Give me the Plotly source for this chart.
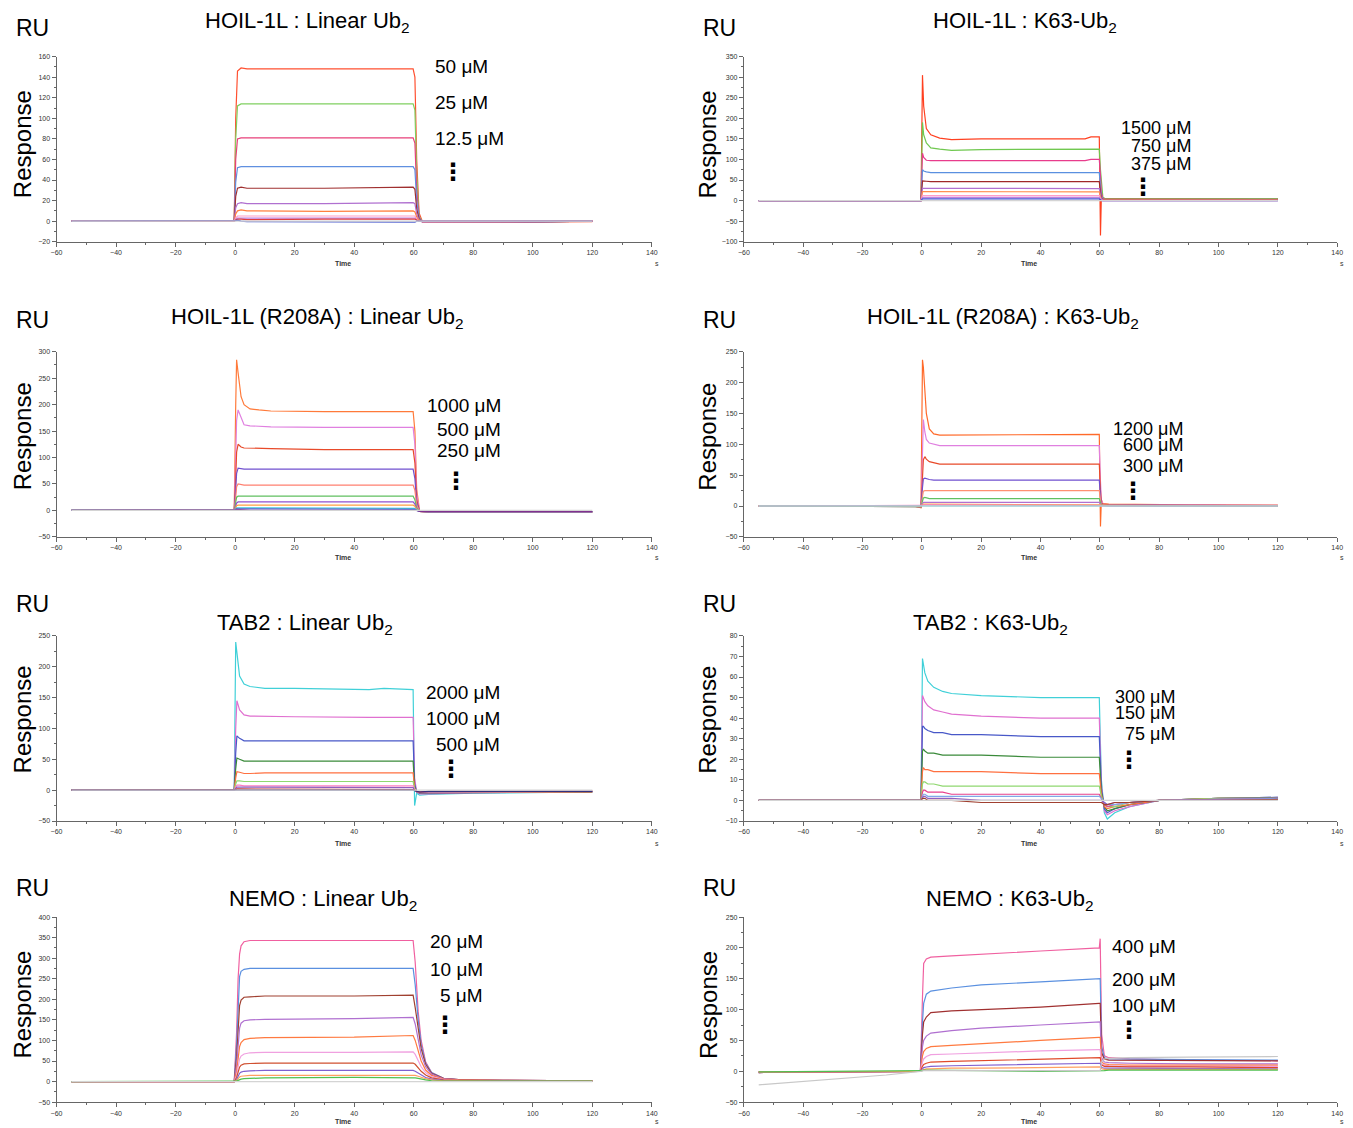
import plotly.graph_objects as go

W, H = 1353, 1128
FONT = "Liberation Sans, Arial, sans-serif"

# ---------------- data ----------------
TITLES = ["HOIL-1L : Linear Ub<sub>2</sub>", "HOIL-1L : K63-Ub<sub>2</sub>",
          "HOIL-1L (R208A) : Linear Ub<sub>2</sub>", "HOIL-1L (R208A) : K63-Ub<sub>2</sub>",
          "TAB2 : Linear Ub<sub>2</sub>", "TAB2 : K63-Ub<sub>2</sub>",
          "NEMO : Linear Ub<sub>2</sub>", "NEMO : K63-Ub<sub>2</sub>"]
CONC_LABELS = [["50 μM", "25 μM", "12.5 μM"], ["1500 μM", "750 μM", "375 μM"],
               ["1000 μM", "500 μM", "250 μM"], ["1200 μM", "600 μM", "300 μM"],
               ["2000 μM", "1000 μM", "500 μM"], ["300 μM", "150 μM", "75 μM"],
               ["20 μM", "10 μM", "5 μM"], ["400 μM", "200 μM", "100 μM"]]
Y_RANGES = [(-20, 160), (-100, 350), (-50, 300), (-50, 250),
            (-50, 250), (-10, 80), (-50, 400), (-50, 250)]
Y_DTICK = [20, 50, 50, 50, 50, 10, 50, 50]
X_TICKS = [-60, -40, -20, 0, 20, 40, 60, 80, 100, 120, 140]

# Panel 1: HOIL-1L : Linear Ub2
P1_T = [-55, -0.3, 0.2, 0.8, 2, 4, 30, 59.8, 60.4, 61, 61.8, 63, 90, 120]
P1_CURVES = [
    [0, 0, 100, 146, 149, 148, 148, 148, 140, 60, 8, -1, -1, -0.5],
    [0, 0, 80, 112, 114, 114, 113.5, 114, 108, 45, 5, -1, -1, 0],
    [0, 0, 60, 80, 81, 81, 81, 81, 76, 30, 4, -1, -1, 0],
    [0, 0, 38, 52, 53, 53, 53, 53, 50, 20, 3, -1, -1, 0],
    [0, 0, 24, 32, 33, 32, 32, 33, 31, 12, 2, -1, -1, 0],
    [0, 0, 13, 17, 18, 17, 17, 18, 17, 7, 1, -1, -1, 0],
    [0, 0, 7, 10, 11, 10, 9.5, 10, 9, 4, 1, -0.5, -0.5, 0],
    [0, 0, 3, 5, 5, 5, 5, 5, 5, 2, 0, -0.5, 0, 0],
    [0, 0, 2, 3, 3, 3, 3, 3, 3, 1, 0, 0, 0, 0],
    [0, 0, 1, 2, 2, 1.5, 2, 2, 2, 1, 0, 0, 0, 0],
    [0, 0, 0.5, 1, 0, -0.5, -1, -1, -1, 0, 0, 0, 0, 0],
]
P1_COLORS = ["#ff5030", "#80d060", "#e8407a", "#6090e0", "#a03030", "#b070d0",
             "#ff7f3f", "#ff9ec8", "#c080e0", "#e04040", "#5060d0"]

# Panel 2: HOIL-1L : K63-Ub2
P2_T = [-55, -0.3, 0.2, 0.6, 1.5, 3, 6, 10, 20, 55, 57, 59.8, 60.2, 60.5, 61, 62, 64, 120]
P2_CURVES = [
    [0, 0, 305, 230, 175, 160, 152, 148, 150, 150, 155, 155, -85, 10, 5, 5, 5, 5],
    [0, 0, 190, 160, 140, 128, 125, 122, 124, 125, 125, 125, 75, 40, 8, 4, 4, 5],
    [0, 0, 115, 105, 98, 97, 97, 97, 97, 97, 100, 100, 60, 20, 5, 3, 3, 3],
    [0, 0, 75, 72, 70, 68, 68, 68, 68, 68, 68, 68, 30, 10, 3, 2, 2, 2],
    [0, 0, 48, 48, 47, 46, 46, 46, 46, 46, 46, 46, 20, 5, 2, 2, 2, 2],
    [0, 0, 30, 30, 29, 29, 29, 29, 29, 29, 29, 29, 12, 3, 1, 1, 1, 1],
    [0, 0, 22, 22, 21, 21, 21, 21, 21, 21, 21, 21, 8, 2, 1, 1, 1, 1],
    [0, 0, 12, 12, 12, 12, 12, 12, 12, 12, 12, 12, 5, 1, 0, 0, 0, 0],
    [0, 0, 8, 8, 8, 8, 8, 8, 8, 8, 8, 8, 3, 1, 0, 0, 0, 0],
    [0, 0, 4, 4, 4, 4, 4, 4, 4, 4, 4, 4, 2, 0, 0, 0, 0, 0],
]
P2_COLORS = ["#ff4020", "#70c850", "#e83c8c", "#5a90e0", "#a02828", "#b070d0",
             "#ff8a4a", "#ff9ec8", "#c080e0", "#4050d0"]

# Panel 3: HOIL-1L (R208A) : Linear Ub2
P3_T = [-55, -0.3, 0.2, 0.5, 1, 2, 3, 5, 8, 12, 30, 59.8, 60.4, 61, 62, 65, 120]
P3_CURVES = [
    [0, 0, 200, 285, 260, 215, 200, 192, 190, 188, 187, 187, 150, 40, -2, -3, -3],
    [0, 0, 100, 170, 190, 175, 162, 160, 159, 158, 157, 157, 125, 30, -2, -3, -3],
    [0, 0, 60, 110, 125, 120, 118, 118, 117, 117, 115, 115, 90, 20, -2, -3, -3],
    [0, 0, 40, 70, 80, 79, 78, 78, 78, 78, 78, 78, 60, 15, -2, -3, -3],
    [0, 0, 25, 45, 50, 49, 48, 48, 48, 48, 48, 48, 38, 10, -2, -3, -3],
    [0, 0, 15, 25, 27, 27, 27, 27, 27, 27, 27, 27, 20, 5, -2, -3, -3],
    [0, 0, 8, 14, 16, 16, 16, 16, 16, 16, 16, 16, 12, 3, -2, -3, -3],
    [0, 0, 5, 9, 10, 10, 10, 10, 10, 10, 10, 10, 8, 2, -2, -2, -2],
    [0, 0, 3, 5, 5, 5, 5, 5, 5, 5, 5, 5, 4, 1, -2, -2, -2],
    [0, 0, 2, 3, 3, 3, 3, 3, 3, 2, 2, 2, 2, 0, -2, -2, -2],
    [0, 0, 1, 2, 2, 2, 1, 0, 0, 0, 0, 0, 0, 0, -2, -2, -2],
]
P3_COLORS = ["#ff7a3a", "#e080e0", "#e84a2a", "#7050d0", "#ff8070", "#60c060",
             "#9050d0", "#ffa040", "#40c8d8", "#5060d0", "#803090"]

# Panel 4: HOIL-1L (R208A) : K63-Ub2
P4_T = [-55, -3, -0.3, 0.2, 0.5, 1, 1.5, 2.5, 4, 6, 30, 59.8, 60.2, 60.5, 61, 63, 90, 120]
P4_CURVES = [
    [0, 0, -3, 237, 225, 180, 150, 125, 117, 115, 115, 116, -33, 10, 4, 3, 2, 1],
    [0, 0, -2, 100, 140, 120, 108, 102, 100, 98, 98, 98, 40, 10, 3, 2, 2, 1],
    [0, 0, -2, 50, 75, 80, 76, 72, 70, 68, 68, 68, 25, 5, 3, 2, 1, 1],
    [0, 0, -1, 30, 44, 45, 44, 43, 42, 42, 42, 42, 15, 3, 2, 2, 1, 0],
    [0, 0, -1, 15, 24, 25, 25, 25, 25, 25, 25, 25, 10, 2, 2, 1, 1, 0],
    [0, 0, -1, 8, 13, 14, 13, 12, 12, 12, 12, 12, 5, 2, 1, 1, 0, 0],
    [0, 0, 0, 4, 6, 6, 6, 6, 6, 6, 6, 6, 3, 1, 1, 0, 0, 0],
    [0, 0, 0, 2, 3, 3, 3, 3, 3, 3, 3, 3, 2, 1, 1, 0, 0, 0],
    [0, 0, 0, 1, 2, 2, 2, 2, 2, 2, 2, 1.5, 1, 0, 0, 0, 0, 0],
    [0, 0, 0, 0, 1, 1, 1, 0, 0, 0, 0, 0, 0, 0, 0, 0, 0, 0],
]
P4_COLORS = ["#ff6a2a", "#e080e0", "#e84a2a", "#7050d0", "#ff9070", "#60c060",
             "#b070d0", "#ffa040", "#ff80c0", "#40c8d8"]

# Panel 5: TAB2 : Linear Ub2
P5_T = [-55, -3, -0.3, 0.2, 0.6, 1.5, 3, 5, 10, 20, 45, 50, 59.8, 60.3, 61, 62, 65, 80, 120]
P5_CURVES = [
    [0, -1, 0, 240, 225, 185, 172, 168, 165, 165, 163, 165, 163, -25, -5, -8, -7, -5, -3],
    [0, 0, 0, 100, 145, 130, 122, 120, 120, 119, 118, 118, 118, 20, -3, -6, -6, -4, -3],
    [0, 0, 0, 60, 88, 84, 80, 80, 80, 80, 80, 80, 80, 10, -3, -5, -5, -4, -3],
    [0, 0, 0, 35, 52, 50, 47, 47, 47, 47, 47, 47, 47, 5, -2, -4, -4, -3, -3],
    [0, 0, 0, 20, 30, 29, 27, 27, 28, 28, 28, 28, 28, 3, -2, -4, -4, -3, -3],
    [0, 0, 0, 10, 15, 15, 14, 14, 14, 14, 14, 14, 14, 2, -2, -3, -3, -3, -2],
    [0, 0, 0, 5, 8, 8, 7, 7, 7, 7, 7, 7, 7, 1, -2, -3, -3, -2, -2],
    [0, 0, 0, 3, 5, 5, 5, 4, 4, 4, 4, 4, 4, 0, -2, -3, -3, -2, -2],
    [0, 0, 0, 1, 2, 2, 2, 1, 1, 1, 1, 1, 1, 0, -2, -3, -2, -2, -2],
    [0, 0, 0, 0, 1, 1, 0, 0, 0, 0, 0, 0, 0, -1, -2, -3, -2, -2, -2],
]
P5_COLORS = ["#40d0d8", "#e070d0", "#4858c8", "#3a8a3a", "#ff7040", "#90d870",
             "#ff80c0", "#9060c0", "#c03030", "#303080"]

# Panel 6: TAB2 : K63-Ub2
P6_T = [-55, -0.3, 0.2, 0.5, 1, 2, 4, 7, 10, 20, 40, 59.8, 60.5, 61.5, 62.5, 65, 70, 80, 100, 120]
P6_CURVES = [
    [0, 0, 69, 66, 62, 58, 55, 53, 52, 51, 50, 50, 10, -6, -9, -6, -3, 0, 1, 1.5],
    [0, 0, 51, 50, 48, 46, 44, 43, 42, 41, 40, 40, 8, -5, -7, -5, -3, 0, 1, 1.5],
    [0, 0, 36, 36, 35, 34, 33, 33, 32, 32, 31, 31, 6, -4, -6, -4, -2, 0, 1, 1.5],
    [0, 0, 24, 25, 24, 23, 23, 22, 22, 22, 21, 21, 4, -3, -5, -4, -2, 0, 1, 1],
    [0, 0, 14, 16, 15, 15, 14, 14, 14, 14, 13, 13, 3, -3, -4, -3, -2, 0, 1, 1],
    [0, 0, 8, 9, 9, 8, 8, 7, 7, 7, 7, 7, 2, -2, -3, -3, -1, 0, 1, 1],
    [0, 0, 4, 5, 5, 4, 4, 4, 3, 3, 3, 3, 1, -2, -3, -2, -1, 0, 0.5, 1],
    [0, 0, 2, 3, 3, 2, 2, 2, 2, 2, 2, 2, 1, -1, -2, -2, -1, 0, 0.5, 1],
    [0, 0, 1, 2, 2, 1, 1, 1, 1, 0, 0, 0, 0, -1, -2, -1, -1, 0, 0.5, 0.5],
    [0, 0, 1, 1, 1, 0, 0, 0, 0, -1, -1, -1, -1, -2, -2, -1, -1, 0, 0, 0.5],
]
P6_COLORS = ["#40d0d8", "#e070d0", "#4858c8", "#3a8a3a", "#ff7040", "#90d870",
             "#e8408c", "#80a8e8", "#9060c0", "#a04030"]

# Panel 7: NEMO : Linear Ub2
P7_T = [-55, -0.3, 0.5, 1, 1.5, 2, 3, 5, 10, 40, 59.8, 60.5, 61.5, 62.5, 64, 66, 70, 75, 90, 120]
P7_CURVES = [
    [0, 0, 120, 250, 310, 330, 340, 343, 343, 343, 343, 290, 170, 100, 48, 22, 8, 5, 3, 2],
    [0, 0, 90, 200, 255, 268, 273, 275, 275, 276, 275, 235, 150, 90, 45, 22, 8, 5, 3, 2],
    [0, 0, 60, 140, 185, 198, 205, 206, 208, 208, 210, 180, 125, 80, 42, 20, 8, 5, 3, 2],
    [0, 0, 40, 95, 130, 142, 148, 150, 151, 153, 156, 140, 100, 65, 36, 18, 7, 4, 3, 2],
    [0, 0, 25, 60, 85, 95, 102, 105, 107, 108, 112, 100, 75, 50, 28, 15, 6, 4, 3, 2],
    [0, 0, 15, 40, 55, 62, 67, 70, 71, 71, 72, 66, 52, 36, 22, 12, 5, 3, 2, 2],
    [0, 0, 10, 25, 35, 40, 43, 44, 45, 45, 45, 42, 34, 25, 16, 9, 4, 3, 2, 2],
    [0, 0, 5, 14, 20, 23, 25, 26, 27, 27, 27, 25, 21, 16, 10, 6, 3, 2, 2, 1],
    [0, 0, 3, 8, 11, 13, 14, 15, 15, 15, 16, 15, 13, 10, 7, 4, 2, 2, 1, 1],
    [0, 0, 1, 3, 5, 6, 7, 8, 9, 10, 10, 9, 8, 6, 4, 2, 1, 1, 1, 1],
]
P7_COLORS = ["#f060a0", "#5a90e0", "#a04030", "#b070d0", "#ff7a40", "#f0a0e0",
             "#d05030", "#8060d0", "#ffa060", "#50c050"]

# Panel 8: NEMO : K63-Ub2
P8_T = [-55, -12, -0.5, 0.2, 0.6, 1.5, 3, 10, 20, 40, 59.8, 60.1, 60.6, 61.5, 63, 70, 90, 120]
P8_CURVES = [
    [-2, -1, 0, 120, 175, 182, 185, 187, 190, 195, 200, 215, 60, 25, 22, 20, 18, 17],
    [-2, -1, 0, 80, 110, 125, 130, 135, 140, 145, 150, 150, 40, 22, 20, 20, 19, 18],
    [-2, -1, 0, 60, 80, 88, 95, 98, 100, 104, 110, 110, 30, 20, 18, 18, 17, 17],
    [-1, -1, 0, 40, 50, 57, 62, 66, 70, 75, 80, 80, 22, 15, 14, 13, 12, 12],
    [-1, 0, 0, 25, 32, 37, 40, 42, 45, 50, 55, 55, 15, 12, 11, 10, 10, 10],
    [-1, 0, 0, 15, 20, 24, 27, 28, 30, 33, 35, 35, 12, 10, 9, 8, 8, 8],
    [-1, 0, 0, 8, 11, 13, 15, 16, 17, 19, 22, 22, 10, 8, 8, 7, 7, 6],
    [-1, 0, 0, 4, 6, 7, 8, 9, 10, 11, 13, 13, 6, 5, 5, 5, 4, 4],
    [-1, 0, 0, 2, 3, 4, 4, 5, 5, 6, 7, 7, 4, 3, 3, 3, 3, 3],
    [-1, 0, 0, 1, 2, 2, 2, 2, 1, 0, 0, 0, 0, 1, 2, 2, 2, 2],
    [-22, -6, 0, 1, 1, 1, 1, 1, 1, 1, 1, 1, 15, 20, 21, 22, 23, 24],
]
P8_COLORS = ["#f060a0", "#5a90e0", "#a03030", "#b070d0", "#ff7a40", "#f0a0e0",
             "#e04a2a", "#8060d0", "#ffa060", "#50c050", "#c8c8c8"]

PANELS = [(P1_T, P1_CURVES, P1_COLORS), (P2_T, P2_CURVES, P2_COLORS),
          (P3_T, P3_CURVES, P3_COLORS), (P4_T, P4_CURVES, P4_COLORS),
          (P5_T, P5_CURVES, P5_COLORS), (P6_T, P6_CURVES, P6_COLORS),
          (P7_T, P7_CURVES, P7_COLORS), (P8_T, P8_CURVES, P8_COLORS)]
BASE_T = [-55, 120]
BASE_Y = [0, 0]

# ---------------- layout geometry (target pixels) ----------------
COL_X = [(57, 652), (744, 1337)]
ROW_Y = [(57, 242), (352, 537), (636, 821), (917, 1102)]
TITLE_POS = [(308, 22), (1025, 22), (318, 318), (1003, 318),
             (305, 624), (990, 624), (323, 900), (1010, 900)]
LABEL_POS = [(433, [67, 103, 139], "left"), (1193, [128, 146, 164], "right"),
             (503, [406, 430, 451], "right"), (1185, [429, 445, 466], "right"),
             (502, [693, 719, 745], "right"), (1177, [697, 713, 734], "right"),
             (485, [941, 969, 995], "right"), (1178, [946, 979, 1005], "right")]
LABEL_SIZE = [19, 18, 19, 18, 19, 18, 19, 19]
DOTS_POS = [(453, 172), (1143, 187), (456, 481), (1133, 491),
            (451, 769), (1129, 760), (445, 1025), (1129, 1030)]
RU_Y = [28, 320, 604, 888]
RESP_Y = [145, 437, 720, 1005]
TIME_Y = [264, 558, 843, 1121]

# compensation for the page offset/scale seen when the page is photographed
SX, OX = 0.9906, 14.5
SY, OY = 0.9933, 12.4


def px(x):
    return ((x - OX) / SX) / W


def py(y):
    return 1 - ((y - OY) / SY) / H


fig = go.Figure()
layout = dict(width=W, height=H, margin=dict(l=0, r=0, t=0, b=0),
              paper_bgcolor="white", plot_bgcolor="white", showlegend=False,
              font=dict(family=FONT, color="black"))
annotations = []

for i, (T, curves, colors) in enumerate(PANELS):
    r, c = divmod(i, 2)
    k = "" if i == 0 else str(i + 1)
    xa, ya = "x" + k, "y" + k
    for yv, col in zip(curves, colors):
        fig.add_trace(go.Scatter(x=T, y=yv, mode="lines", xaxis=xa, yaxis=ya,
                                 line=dict(color=col, width=1.2), hoverinfo="skip"))
    if i != 7:
        fig.add_trace(go.Scatter(x=BASE_T, y=BASE_Y, mode="lines", xaxis=xa, yaxis=ya,
                                 line=dict(color="#d4d4d4", width=1.2), hoverinfo="skip"))
    x0, x1 = COL_X[c]
    y0, y1 = ROW_Y[r]
    ymin, ymax = Y_RANGES[i]
    dt = Y_DTICK[i]
    axis_common = dict(showline=True, linecolor="#666", linewidth=1, ticks="outside",
                       ticklen=4, tickcolor="#666", tickwidth=1, showgrid=False,
                       zeroline=False, tickfont=dict(size=7, color="#333", family=FONT))
    layout["xaxis" + k] = dict(axis_common, domain=[px(x0), px(x1)], anchor=ya,
                               range=[-60, 140], tickvals=X_TICKS,
                               minor=dict(ticks="outside", ticklen=2, tickcolor="#666",
                                          dtick=10, tick0=-60, showgrid=False))
    layout["yaxis" + k] = dict(axis_common, domain=[py(y1), py(y0)], anchor=xa,
                               range=[ymin, ymax], dtick=dt, tick0=ymin,
                               minor=dict(ticks="outside", ticklen=2, tickcolor="#666",
                                          dtick=dt / 2, tick0=ymin, showgrid=False))
    tx, ty = TITLE_POS[i]
    annotations.append(dict(text=TITLES[i], x=px(tx), y=py(ty), xref="paper", yref="paper",
                            xanchor="center", yanchor="middle", showarrow=False,
                            font=dict(size=22, family=FONT, color="black")))
    lx, lys, anc = LABEL_POS[i]
    for txt, ly in zip(CONC_LABELS[i], lys):
        annotations.append(dict(text=txt, x=px(lx), y=py(ly), xref="paper", yref="paper",
                                xanchor=anc, yanchor="middle", showarrow=False,
                                font=dict(size=LABEL_SIZE[i], family=FONT, color="black")))
    dx, dy = DOTS_POS[i]
    annotations.append(dict(text="⋮", x=px(dx), y=py(dy), xref="paper", yref="paper",
                            xanchor="center", yanchor="middle", showarrow=False,
                            font=dict(size=24, family="DejaVu Sans", color="black",
                                      weight="bold")))
    annotations.append(dict(text="Time", x=px(343 if c == 0 else 1029), y=py(TIME_Y[r]),
                            xref="paper", yref="paper", xanchor="center", yanchor="middle",
                            showarrow=False,
                            font=dict(size=7, family=FONT, color="#333", weight="bold")))
    annotations.append(dict(text="s", x=px(657 if c == 0 else 1342), y=py(TIME_Y[r]),
                            xref="paper", yref="paper", xanchor="center", yanchor="middle",
                            showarrow=False, font=dict(size=7, family=FONT, color="#333")))

for r in range(4):
    for c in range(2):
        annotations.append(dict(text="RU", x=px(33 if c == 0 else 720), y=py(RU_Y[r]),
                                xref="paper", yref="paper", xanchor="center", yanchor="middle",
                                showarrow=False, font=dict(size=23, family=FONT, color="black")))
        annotations.append(dict(text="Response", x=px(23 if c == 0 else 708), y=py(RESP_Y[r]),
                                xref="paper", yref="paper", xanchor="center", yanchor="middle",
                                textangle=-90, showarrow=False,
                                font=dict(size=24, family=FONT, color="black")))

layout["annotations"] = annotations
fig.update_layout(**layout)
fig.write_html("out.html")
